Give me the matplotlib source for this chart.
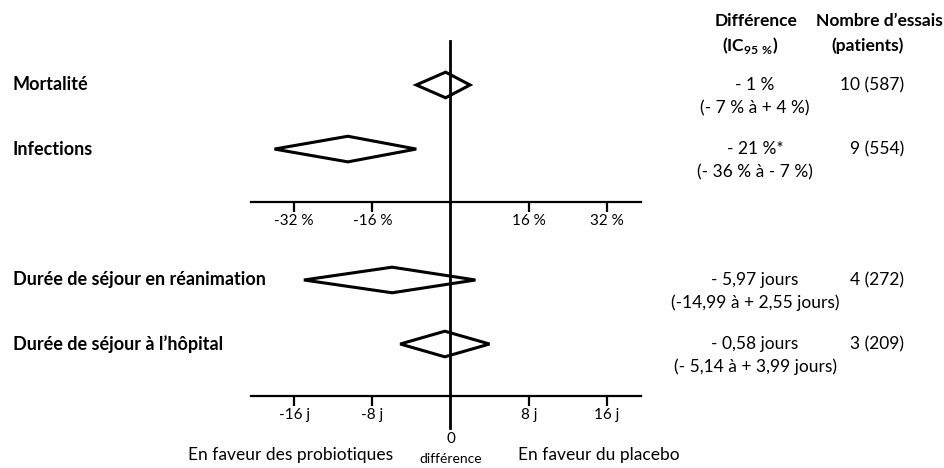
"""Forest plot probiotiques vs placebo -> out.png."""

import matplotlib

matplotlib.use("Agg")
import matplotlib.pyplot as plt  # noqa: E402
from matplotlib import transforms  # noqa: E402

plt.rcParams["font.family"] = ["Lato", "DejaVu Sans"]
plt.rcParams["mathtext.fontset"] = "custom"
plt.rcParams["mathtext.rm"] = "Lato"
plt.rcParams["mathtext.bf"] = "Lato:bold"

W, H = 944, 468

# --- Données -------------------------------------------------------------
pct_labels = ["Mortalité", "Infections"]
pct_est = [-1, -21]
pct_lo = [-7, -36]
pct_hi = [4, -7]
pct_diff_txt = ["- 1 %", "- 21 %*"]
pct_ci_txt = ["(- 7 % à + 4 %)", "(- 36 % à - 7 %)"]
pct_trials = ["10 (587)", "9 (554)"]
pct_ticks = [-32, -16, 16, 32]
pct_ticklabels = ["-32 %", "-16 %", "16 %", "32 %"]

day_labels = ["Durée de séjour en réanimation", "Durée de séjour à l’hôpital"]
day_est = [-5.97, -0.58]
day_lo = [-14.99, -5.14]
day_hi = [2.55, 3.99]
day_diff_txt = ["- 5,97 jours", "- 0,58 jours"]
day_ci_txt = ["(-14,99 à + 2,55 jours)", "(- 5,14 à + 3,99 jours)"]
day_trials = ["4 (272)", "3 (209)"]
day_ticks = [-16, -8, 8, 16]
day_ticklabels = ["-16 j", "-8 j", "8 j", "16 j"]

FS = 12.5
FS_LAB = 13
HALF_H = 0.2  # demi-hauteur des losanges (unités de ligne)


def fx(px):
    return px / W


def fy(py):
    return 1 - py / H


def _panel(fig, rect, xlim, ylim, labels, est, lo, hi, diff_txt, ci_txt,
           trials, ticks, ticklabels, vline_below=0.0):
    ax = fig.add_axes(rect)
    ax.patch.set_visible(False)
    ax.set_xlim(*xlim)
    ax.set_ylim(*ylim)
    for s in ("top", "left", "right"):
        ax.spines[s].set_visible(False)
    ax.spines["bottom"].set_linewidth(1.6)
    ax.set_yticks([])
    ax.set_xticks(ticks)
    ax.set_xticklabels(ticklabels)
    ax.tick_params(axis="x", direction="out", length=7, width=1.6, pad=1.5,
                   labelsize=11)

    for i in range(len(labels)):
        ax.fill([lo[i], est[i], hi[i], est[i]],
                [i, i - HALF_H, i, i + HALF_H],
                facecolor="white", edgecolor="black", linewidth=2.2, zorder=2)

    ax.axvline(0, ymin=-vline_below, ymax=1, color="black", linewidth=2,
               zorder=3, clip_on=False)

    tr = transforms.blended_transform_factory(fig.transFigure, ax.transData)
    for i, lab in enumerate(labels):
        fig.text(fx(13), i, lab, transform=tr, ha="left", va="center",
                 fontsize=FS_LAB, fontweight="bold")
        fig.text(fx(755), i, diff_txt[i], transform=tr, ha="center",
                 va="center", fontsize=FS)
        fig.text(fx(755), i + 0.36, ci_txt[i], transform=tr, ha="center",
                 va="center", fontsize=FS)
        fig.text(fx(904), i, trials[i], transform=tr, ha="right",
                 va="center", fontsize=FS)
    return ax


def main():
    fig = plt.figure(figsize=(W / 100, H / 100), dpi=100)

    _panel(fig, [fx(251), fy(202), fx(641) - fx(251), fy(41) - fy(202)],
           (-40.8, 38.96), (1.826, -0.686),
           pct_labels, pct_est, pct_lo, pct_hi, pct_diff_txt, pct_ci_txt,
           pct_trials, pct_ticks, pct_ticklabels)

    _panel(fig, [fx(251), fy(396), fx(641) - fx(251), fy(202) - fy(396)],
           (-20.4, 19.48), (1.812, -1.218),
           day_labels, day_est, day_lo, day_hi, day_diff_txt, day_ci_txt,
           day_trials, day_ticks, day_ticklabels, vline_below=32 / 194)

    # En-têtes
    fig.text(fx(756), fy(21), "Différence", ha="center", va="center",
             fontsize=FS, fontweight="bold")
    fig.text(fx(750), fy(46), r"(IC$_{\mathbf{95\ \%}}$)", ha="center",
             va="center", fontsize=FS, fontweight="bold")
    fig.text(fx(879), fy(21), "Nombre d’essais", ha="center", va="center",
             fontsize=FS, fontweight="bold")
    fig.text(fx(868), fy(46), "(patients)", ha="center", va="center",
             fontsize=FS, fontweight="bold")

    # Légende du bas
    fig.text(fx(451), fy(439), "0", ha="center", va="center", fontsize=11)
    fig.text(fx(451), fy(459), "différence", ha="center", va="center",
             fontsize=10)
    fig.text(fx(291), fy(455), "En faveur des probiotiques", ha="center",
             va="center", fontsize=FS)
    fig.text(fx(518), fy(455), "En faveur du placebo", ha="left",
             va="center", fontsize=FS)

    fig.savefig("out.png", dpi=100)
    plt.close(fig)


if __name__ == "__main__":
    main()
